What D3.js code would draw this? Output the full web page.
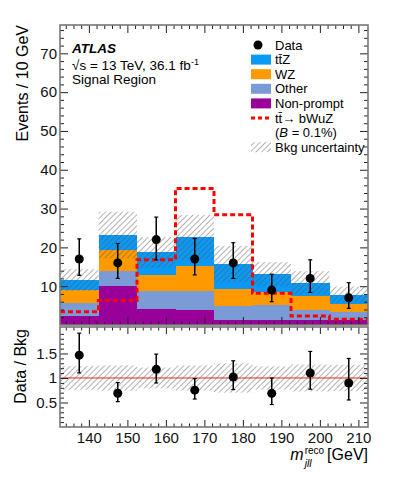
<!DOCTYPE html>
<html>
<head>
<meta charset="utf-8">
<script src="https://cdn.jsdelivr.net/npm/d3@7"></script>
<style>
  body { margin: 0; background: #fff; }
  svg { display: block; font-family: "Liberation Sans", Arial, sans-serif; }
</style>
</head>
<body>
<div id="chart"></div>
<script>
// bins of m_jll^reco [GeV]
const binEdges = [132.5, 142.5, 152.5, 162.5, 172.5, 182.5, 192.5, 202.5, 212.5];

// background contributions per bin (events), bottom to top of the stack
const nonPrompt = [2.3, 10.0, 4.1, 3.9, 1.3, 1.3, 1.3, 1.2];
const other     = [3.45, 4.0, 4.7, 4.9, 3.7, 3.9, 2.6, 2.2];
const wz        = [3.25, 5.2, 4.1, 6.4, 4.4, 3.3, 3.6, 1.9];
const ttz       = [2.6, 4.0, 5.8, 7.4, 6.3, 4.6, 3.4, 2.5];
const bkgUnc    = [2.8, 6.0, 4.0, 5.8, 4.7, 3.1, 3.0, 2.1];

// data with error bars
const dataCounts = [17, 16, 22, 17, 16, 9, 12, 7];
const dataHigh   = [22.2, 21.0, 27.8, 22.3, 21.2, 13.1, 16.8, 10.9];
const dataLow    = [12.8, 12.0, 16.8, 12.9, 12.0, 6.0, 8.4, 4.3];

// tt -> bWuZ signal, B = 0.1%
const signal = [3.4, 6.3, 16.8, 35.2, 28.4, 8.2, 2.3, 1.5];

const xMajor = [140, 150, 160, 170, 180, 190, 200, 210];
const yMajor = [10, 20, 30, 40, 50, 60, 70];
const rMajor = [0.5, 1, 1.5];

const colors = {
  nonPrompt: "#990099",
  other: "#7b9bd6",
  wz: "#ff9900",
  ttz: "#0a99f5"
};

const W = 399, H = 483;
const left = 60, right = 368;
const topY = 25, topBottom = 325;
const ratioTop = 327, ratioBottom = 427;

const svg = d3.select("#chart").append("svg")
  .attr("width", W)
  .attr("height", H);

// hatch pattern for the uncertainty bands
const defs = svg.append("defs");
defs.append("pattern")
  .attr("id", "hatch")
  .attr("patternUnits", "userSpaceOnUse")
  .attr("width", 4)
  .attr("height", 4)
  .attr("patternTransform", "rotate(45)")
  .append("line")
    .attr("x1", 0).attr("y1", -1)
    .attr("x2", 0).attr("y2", 5)
    .attr("stroke", "#555")
    .attr("stroke-width", 0.9);

const x = d3.scaleLinear().domain([132.5, 212.5]).range([left, right]);
const y = d3.scaleLinear().domain([0, 77.3]).range([topBottom, topY]);
const yr = d3.scaleLinear().domain([0, 2.04]).range([ratioBottom, ratioTop]);

const bins = d3.range(signal.length).map(i => ({
  lo: binEdges[i], hi: binEdges[i + 1], c: (binEdges[i] + binEdges[i + 1]) / 2,
  nonPrompt: nonPrompt[i], other: other[i], wz: wz[i], ttz: ttz[i],
  unc: bkgUnc[i], data: dataCounts[i], hiErr: dataHigh[i], loErr: dataLow[i],
  signal: signal[i]
}));
bins.forEach(d => { d.total = d.nonPrompt + d.other + d.wz + d.ttz; });

// ---------- top panel ----------
const keys = ["nonPrompt", "other", "wz", "ttz"];
const stacked = d3.stack().keys(keys)(bins);

const gTop = svg.append("g");
stacked.forEach(layer => {
  gTop.append("g")
    .selectAll("rect")
    .data(layer)
    .enter()
    .append("rect")
      .attr("x", d => x(d.data.lo))
      .attr("width", d => x(d.data.hi) - x(d.data.lo))
      .attr("y", d => y(d[1]))
      .attr("height", d => y(d[0]) - y(d[1]))
      .attr("fill", colors[layer.key])
      .attr("shape-rendering", "crispEdges");
});

// background uncertainty
gTop.append("g")
  .selectAll("rect")
  .data(bins)
  .enter()
  .append("rect")
    .attr("x", d => x(d.lo))
    .attr("width", d => x(d.hi) - x(d.lo))
    .attr("y", d => y(d.total + d.unc))
    .attr("height", d => y(d.total - d.unc) - y(d.total + d.unc))
    .attr("fill", "url(#hatch)");

// signal step line
const sigPts = bins.map(d => [d.lo, d.signal]);
sigPts.push([binEdges[binEdges.length - 1], signal[signal.length - 1]]);
gTop.append("path")
  .datum(sigPts)
  .attr("d", d3.line().x(d => x(d[0])).y(d => y(d[1])).curve(d3.curveStepAfter))
  .attr("fill", "none")
  .attr("stroke", "#ff0000")
  .attr("stroke-width", 3)
  .attr("stroke-dasharray", "5,3");

// data points
const gData = gTop.append("g");
gData.selectAll("line.err")
  .data(bins)
  .enter()
  .append("line")
    .attr("x1", d => x(d.c)).attr("x2", d => x(d.c))
    .attr("y1", d => y(d.hiErr)).attr("y2", d => y(d.loErr))
    .attr("stroke", "#000").attr("stroke-width", 1.5);
["hiErr", "loErr"].forEach(k => {
  gData.selectAll("line.cap" + k)
    .data(bins)
    .enter()
    .append("line")
      .attr("x1", d => x(d.c) - 2).attr("x2", d => x(d.c) + 2)
      .attr("y1", d => y(d[k])).attr("y2", d => y(d[k]))
      .attr("stroke", "#000").attr("stroke-width", 1.2);
});
gData.selectAll("circle")
  .data(bins)
  .enter()
  .append("circle")
    .attr("cx", d => x(d.c))
    .attr("cy", d => y(d.data))
    .attr("r", 4.5)
    .attr("fill", "#000");

// ---------- ratio panel ----------
const gR = svg.append("g");
gR.append("g")
  .selectAll("rect")
  .data(bins)
  .enter()
  .append("rect")
    .attr("x", d => x(d.lo))
    .attr("width", d => x(d.hi) - x(d.lo))
    .attr("y", d => yr(1 + d.unc / d.total))
    .attr("height", d => yr(1 - d.unc / d.total) - yr(1 + d.unc / d.total))
    .attr("fill", "url(#hatch)");

gR.append("line")
  .attr("x1", left).attr("x2", right)
  .attr("y1", yr(1)).attr("y2", yr(1))
  .attr("stroke", "#e8281e").attr("stroke-width", 1);

gR.selectAll("line.rerr")
  .data(bins)
  .enter()
  .append("line")
    .attr("x1", d => x(d.c)).attr("x2", d => x(d.c))
    .attr("y1", d => yr(d.hiErr / d.total)).attr("y2", d => yr(d.loErr / d.total))
    .attr("stroke", "#000").attr("stroke-width", 1.5);
["hiErr", "loErr"].forEach(k => {
  gR.selectAll("line.rcap" + k)
    .data(bins)
    .enter()
    .append("line")
      .attr("x1", d => x(d.c) - 2).attr("x2", d => x(d.c) + 2)
      .attr("y1", d => yr(d[k] / d.total)).attr("y2", d => yr(d[k] / d.total))
      .attr("stroke", "#000").attr("stroke-width", 1.2);
});
gR.selectAll("circle")
  .data(bins)
  .enter()
  .append("circle")
    .attr("cx", d => x(d.c))
    .attr("cy", d => yr(d.data / d.total))
    .attr("r", 4.5)
    .attr("fill", "#000");

// ---------- axes (ROOT style, ticks pointing inward) ----------
function ticks(g, axis) {
  g.call(axis);
  g.select(".domain").remove();
  g.selectAll(".tick line").attr("stroke", "#222").attr("stroke-width", 1);
}
const xMinor = d3.range(134, 212, 2).filter(v => v % 10 !== 0);
const yMinor = d3.range(2, 77, 2).filter(v => v % 10 !== 0);
const rMinor = d3.range(1, 21).map(v => v / 10).filter(v => Math.round(v * 10) % 5 !== 0);

// top panel
ticks(svg.append("g").attr("transform", `translate(0,${topBottom})`),
  d3.axisBottom(x).tickValues(xMajor).tickSize(-8).tickFormat(""));
ticks(svg.append("g").attr("transform", `translate(0,${topBottom})`),
  d3.axisBottom(x).tickValues(xMinor).tickSize(-4).tickFormat(""));
ticks(svg.append("g").attr("transform", `translate(0,${topY})`),
  d3.axisTop(x).tickValues(xMajor).tickSize(-8).tickFormat(""));
ticks(svg.append("g").attr("transform", `translate(0,${topY})`),
  d3.axisTop(x).tickValues(xMinor).tickSize(-4).tickFormat(""));
ticks(svg.append("g").attr("transform", `translate(${left},0)`),
  d3.axisLeft(y).tickValues(yMajor).tickSize(-8).tickPadding(3));
ticks(svg.append("g").attr("transform", `translate(${left},0)`),
  d3.axisLeft(y).tickValues(yMinor).tickSize(-4).tickFormat(""));
ticks(svg.append("g").attr("transform", `translate(${right},0)`),
  d3.axisRight(y).tickValues(yMajor).tickSize(-8).tickFormat(""));
ticks(svg.append("g").attr("transform", `translate(${right},0)`),
  d3.axisRight(y).tickValues(yMinor).tickSize(-4).tickFormat(""));

// ratio panel
ticks(svg.append("g").attr("transform", `translate(0,${ratioBottom})`),
  d3.axisBottom(x).tickValues(xMajor).tickSize(-7).tickPadding(5));
ticks(svg.append("g").attr("transform", `translate(0,${ratioBottom})`),
  d3.axisBottom(x).tickValues(xMinor).tickSize(-3.5).tickFormat(""));
ticks(svg.append("g").attr("transform", `translate(0,${ratioTop})`),
  d3.axisTop(x).tickValues(xMajor).tickSize(-7).tickFormat(""));
ticks(svg.append("g").attr("transform", `translate(0,${ratioTop})`),
  d3.axisTop(x).tickValues(xMinor).tickSize(-3.5).tickFormat(""));
ticks(svg.append("g").attr("transform", `translate(${left},0)`),
  d3.axisLeft(yr).tickValues(rMajor).tickSize(-8).tickPadding(3).tickFormat(d3.format("")));
ticks(svg.append("g").attr("transform", `translate(${left},0)`),
  d3.axisLeft(yr).tickValues(rMinor).tickSize(-4).tickFormat(""));
ticks(svg.append("g").attr("transform", `translate(${right},0)`),
  d3.axisRight(yr).tickValues(rMajor).tickSize(-8).tickFormat(""));
ticks(svg.append("g").attr("transform", `translate(${right},0)`),
  d3.axisRight(yr).tickValues(rMinor).tickSize(-4).tickFormat(""));

svg.selectAll(".tick text")
  .attr("font-size", 15)
  .attr("font-family", "'Liberation Sans', Arial, sans-serif")
  .attr("fill", "#111");

// frames
[[topY, topBottom], [ratioTop, ratioBottom]].forEach(([a, b]) => {
  svg.append("rect")
    .attr("x", left).attr("y", a)
    .attr("width", right - left).attr("height", b - a)
    .attr("fill", "none")
    .attr("stroke", "#777")
    .attr("stroke-width", 1.6);
});

// ---------- axis titles ----------
svg.append("text")
  .attr("transform", `translate(28,${topY}) rotate(-90)`)
  .attr("text-anchor", "end")
  .attr("font-size", 16)
  .text("Events / 10 GeV");

svg.append("text")
  .attr("transform", `translate(26,${ratioTop + 2}) rotate(-90)`)
  .attr("text-anchor", "end")
  .attr("font-size", 16)
  .text("Data / Bkg");

// x title: m_jll^reco [GeV], right aligned
const xt = svg.append("g");
const gev = xt.append("text")
  .attr("x", right).attr("y", 460)
  .attr("text-anchor", "end")
  .attr("font-size", 16)
  .text(" [GeV]");
const gevW = gev.node().getComputedTextLength();
const sup = xt.append("text")
  .attr("x", right - gevW - 3).attr("y", 454)
  .attr("text-anchor", "end")
  .attr("font-size", 10)
  .text("reco");
const supW = sup.node().getComputedTextLength();
const subStart = right - gevW - 3 - supW;
xt.append("text")
  .attr("x", subStart).attr("y", 467)
  .attr("font-size", 10.5)
  .attr("font-style", "italic")
  .text("jll");
xt.append("text")
  .attr("x", subStart - 1).attr("y", 460)
  .attr("text-anchor", "end")
  .attr("font-size", 16)
  .attr("font-style", "italic")
  .text("m");

// ---------- ATLAS label ----------
svg.append("text")
  .attr("x", 72).attr("y", 53)
  .attr("font-size", 13.5)
  .attr("font-weight", "bold")
  .attr("font-style", "italic")
  .text("ATLAS");
const lumi = svg.append("text")
  .attr("x", 72).attr("y", 70)
  .attr("font-size", 13.5);
lumi.append("tspan").text("\u221As = 13 TeV, 36.1 fb");
lumi.append("tspan").attr("font-size", 9).attr("dy", -5).text("-1");
svg.append("text")
  .attr("x", 72).attr("y", 84)
  .attr("font-size", 13.5)
  .text("Signal Region");

// ---------- legend ----------
const legX = 251, legW = 20, legText = 275;
const rowY = d3.range(8).map(i => 45 + i * 14.6);
const leg = svg.append("g").attr("font-size", 13);

leg.append("circle").attr("cx", legX + legW / 2 - 3).attr("cy", rowY[0]).attr("r", 4.5).attr("fill", "#000");

const boxes = [
  ["ttz", "tt\u0304Z"],
  ["wz", "WZ"],
  ["other", "Other"],
  ["nonPrompt", "Non-prompt"]
];
boxes.forEach(([k], i) => {
  leg.append("rect")
    .attr("x", legX).attr("y", rowY[i + 1] - 5)
    .attr("width", legW).attr("height", 10)
    .attr("fill", colors[k]);
});
leg.append("line")
  .attr("x1", legX).attr("x2", legX + legW)
  .attr("y1", rowY[5]).attr("y2", rowY[5])
  .attr("stroke", "#ff0000").attr("stroke-width", 3)
  .attr("stroke-dasharray", "4,3");
leg.append("rect")
  .attr("x", legX).attr("y", rowY[7] - 5)
  .attr("width", legW).attr("height", 10)
  .attr("fill", "url(#hatch)");

const labels = ["Data", ...boxes.map(b => b[1]), "tt\u0304\u2192 bWuZ"];
labels.forEach((t, i) => {
  leg.append("text")
    .attr("x", legText).attr("y", rowY[i])
    .attr("dy", "0.36em")
    .text(t);
});
const bLab = leg.append("text")
  .attr("x", legText).attr("y", rowY[6])
  .attr("dy", "0.36em");
bLab.append("tspan").text("(");
bLab.append("tspan").attr("font-style", "italic").text("B");
bLab.append("tspan").text(" = 0.1%)");
leg.append("text")
  .attr("x", legText).attr("y", rowY[7])
  .attr("dy", "0.36em")
  .text("Bkg uncertainty");
</script>
</body>
</html>
